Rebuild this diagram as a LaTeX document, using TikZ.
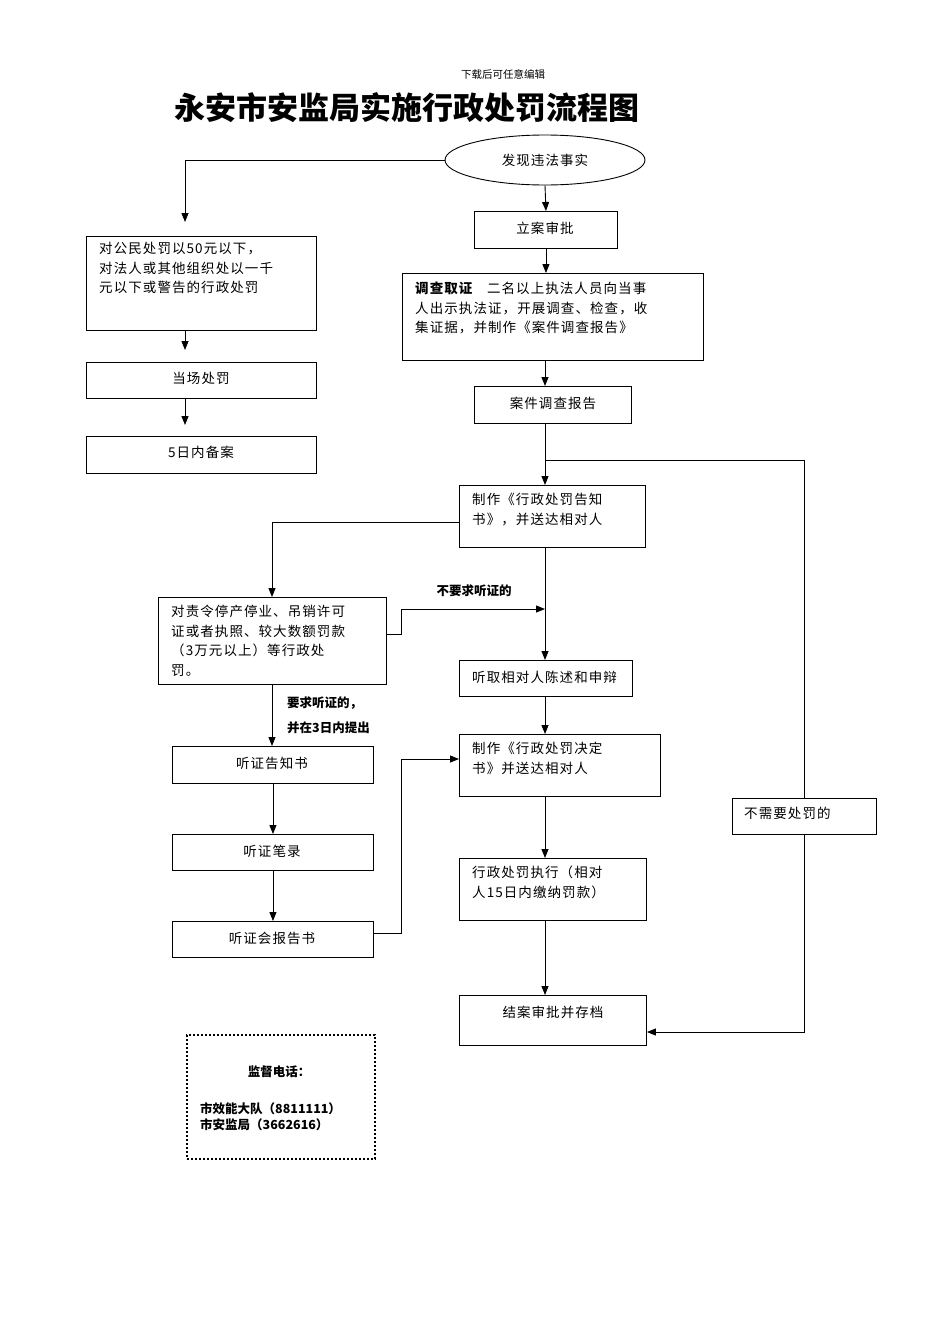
\documentclass[tikz,border=0pt]{standalone}
\usepackage{fontspec}
\setmainfont{Noto Sans CJK SC}
\newfontfamily\cjk[LetterSpace=8]{Noto Sans CJK SC}
\usetikzlibrary{arrows.meta,shapes.geometric}
\tikzset{
 bx/.style={draw,line width=0.9pt,anchor=north west,inner sep=0},
 tx/.style={anchor=north west,align=left,font=\fontsize{13.5}{19.5}\selectfont\cjk,inner sep=0},
 ct/.style={font=\fontsize{13.5}{19.5}\selectfont\cjk,inner sep=0},
 bl/.style={font=\fontsize{12.5}{16}\selectfont\bfseries,inner sep=0},
 ar/.style={line width=0.9pt,-{Triangle[length=9pt,width=7pt]}},
 ln/.style={line width=0.9pt}
}
\newcommand\mybox[6]{\node[bx,minimum width=#4-#2,minimum height=#5-#3] (#1) at (#2,#3) {};\node[tx] (#1t) at (#2+13,#3+#6) }
\newcommand\plainbox[5]{\node[bx,minimum width=#4-#2,minimum height=#5-#3] (#1) at (#2,#3) {};}
\begin{document}
\begin{tikzpicture}[x=1pt,y=-1pt]
\useasboundingbox (0,0) rectangle (950,1344);
\node[font=\fontsize{10.5}{12}\selectfont] (hd) at (503,74) {下载后可任意编辑};
\node[font=\fontsize{31}{34}\selectfont\bfseries] (title) at (407,108) {永安市安监局实施行政处罚流程图};
\node[draw,ellipse,line width=0.9pt,minimum width=200pt,minimum height=50pt,inner sep=0] (e) at (545,160) {};
\node[ct] at (545,160) {发现违法事实};
\plainbox{b1}{474}{211}{617}{248} \node[ct] at (545,228) {立案审批};
\mybox{b2}{402}{273}{703}{360}{9}{\textbf{调查取证}\quad 二名以上执法人员向当事\\人出示执法证，开展调查、检查，收\\集证据，并制作《案件调查报告》};
\plainbox{b3}{474}{386}{631}{423} \node[ct] at (553,403) {案件调查报告};
\mybox{b4}{459}{485}{645}{547}{8}{制作《行政处罚告知\\书》，并送达相对人};
\mybox{L1}{86}{236}{316}{330}{6}{对公民处罚以50元以下，\\对法人或其他组织处以一千\\元以下或警告的行政处罚};
\plainbox{L2}{86}{362}{316}{398} \node[ct] at (201,378) {当场处罚};
\plainbox{L3}{86}{436}{316}{473} \node[ct] at (201,452) {5日内备案};
\mybox{m1}{158}{597}{386}{684}{8}{对责令停产停业、吊销许可\\证或者执照、较大数额罚款\\（3万元以上）等行政处\\罚。};
\plainbox{h1}{172}{746}{373}{783} \node[ct] at (272,763) {听证告知书};
\plainbox{h2}{172}{834}{373}{870} \node[ct] at (272,851) {听证笔录};
\plainbox{h3}{172}{921}{373}{957} \node[ct] at (272,938) {听证会报告书};
\plainbox{r1}{459}{660}{632}{696} \node[ct,anchor=west] at (472,677) {听取相对人陈述和申辩};
\mybox{r2}{459}{734}{660}{796}{8}{制作《行政处罚决定\\书》并送达相对人};
\mybox{r3}{459}{858}{646}{920}{8}{行政处罚执行（相对\\人15日内缴纳罚款）};
\plainbox{r4}{459}{995}{646}{1045} \node[ct] at (553,1012) {结案审批并存档};
\plainbox{nn}{732}{798}{876}{834} \node[ct,anchor=west] at (744,813) {不需要处罚的};
\node[draw,dotted,line width=2pt,anchor=north west,minimum width=188pt,minimum height=124pt,inner sep=0] (sup) at (186,1034) {};
\node[bl] at (279,1072) {监督电话：};
\node[bl,anchor=north west,align=left] at (200,1102) {市效能大队（8811111）\\市安监局（3662616）};
\node[bl] at (474,591) {不要求听证的};
\node[bl,anchor=west] at (287,703) {要求听证的，};
\node[bl,anchor=west] at (287,728) {并在3日内提出};
% connectors
\draw[ar] (e.west) -| (185,222);
\draw[ar] (e.south) -- (b1.north);
\draw[ar] (b1.south) -- (b1.south|-b2.north);
\draw[ar] (545,360) -- (545,386);
\draw[ar] (545,423) -- (545,485);
\draw[ln] (545,460) -- (804,460) -- (nn.north-|804,0);
\draw[ar] (nn.south-|804,0) -- (804,1032) -- (r4.east|-0,1032);
\draw[ar] (185,330) -- (185,350);
\draw[ar] (185,398) -- (185,425);
\draw[ar] (b4.west|-0,522) -| (272,597);
\draw[ar] (m1.east|-0,634) -- (401,634) -- (401,609) -- (545,609);
\draw[ar] (545,547) -- (r1.north-|545,0);
\draw[ar] (545,696) -- (545,734);
\draw[ar] (545,796) -- (545,858);
\draw[ar] (545,920) -- (545,995);
\draw[ar] (272,684) -- (272,746);
\draw[ar] (h1.south) -- (h2.north);
\draw[ar] (h2.south) -- (h3.north);
\draw[ar] (h3.east|-0,933) -- (401,933) -- (401,759) -- (r2.west|-0,759);
\end{tikzpicture}
\end{document}
